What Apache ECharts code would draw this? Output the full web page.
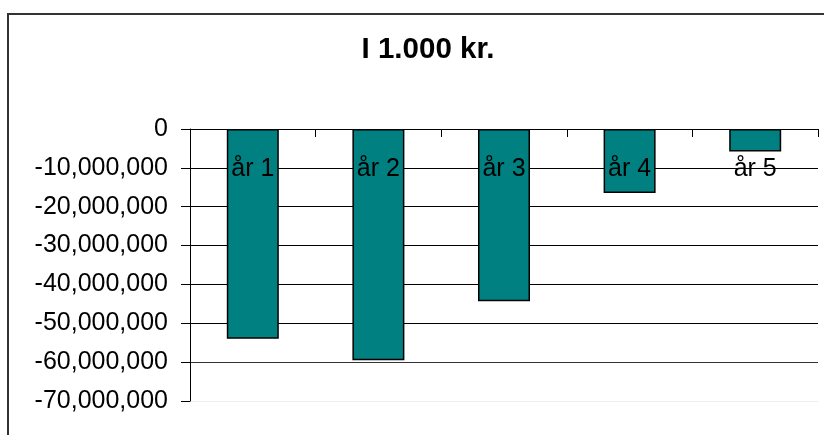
<!DOCTYPE html>
<html>
<head>
<meta charset="utf-8">
<script src="https://cdn.jsdelivr.net/npm/echarts@6/dist/echarts.min.js"></script>
<style>
html,body{margin:0;padding:0;background:#fff;}
#c{width:824px;height:435px;}
</style>
</head>
<body>
<div id="c"></div>
<script>
var titleText = 'I 1.000 kr.';
var categories = ['år 1', 'år 2', 'år 3', 'år 4', 'år 5'];
var values = [-54000000, -59500000, -44300000, -16500000, -5800000];
var yMin = -70000000, yMax = 0, yStep = 10000000;

var FONT = '"Liberation Sans", Arial, sans-serif';
var chart = echarts.init(document.getElementById('c'), null, {renderer: 'canvas'});
chart.setOption({
  animation: false,
  backgroundColor: '#fff',
  title: {
    text: titleText,
    left: 423, top: 30, textAlign: 'center',
    textStyle: {fontFamily: FONT, fontSize: 29.5, fontWeight: 'bold', color: '#000'}
  },
  graphic: [{
    type: 'rect', silent: true, z: -1,
    shape: {x: 8, y: 14, width: 840, height: 450},
    style: {fill: 'none', stroke: '#333', lineWidth: 2}
  }],
  grid: {left: 190, right: 6, top: 129, bottom: 34, containLabel: false},
  xAxis: {
    type: 'category', data: categories, position: 'top', z: 10,
    axisLine: {show: true, onZero: false, lineStyle: {color: '#000', width: 1}},
    axisTick: {show: true, inside: true, length: 8, lineStyle: {color: '#000'}},
    axisLabel: {inside: true, margin: 28, fontFamily: FONT, fontSize: 25, color: '#000'},
    splitLine: {show: false}
  },
  yAxis: {
    type: 'value', min: yMin, max: yMax, interval: yStep,
    axisLine: {show: true, lineStyle: {color: '#000', width: 1}},
    axisTick: {show: true, length: 9, lineStyle: {color: '#000'}},
    axisLabel: {margin: 22, fontFamily: FONT, fontSize: 25, color: '#000',
      formatter: function (v) { return v === 0 ? '0' : v.toLocaleString('en-US'); }},
    splitLine: {show: true, lineStyle: {color: ['#eeeeee', '#333', '#000', '#000', '#000', '#000', '#000', '#000'], width: 1}}
  },
  series: [{
    type: 'bar', data: values, barWidth: 52,
    itemStyle: {color: '#008080', borderColor: '#000', borderWidth: 1.5}
  }]
});
</script>
</body>
</html>
